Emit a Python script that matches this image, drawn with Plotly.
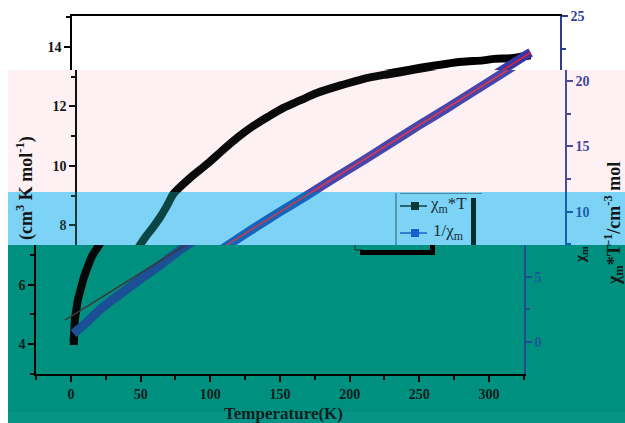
import plotly.graph_objects as go

# ---------------- data ----------------
temp_chiT = [2, 2.5, 3, 4, 5, 7, 9, 12, 15, 19, 24, 29, 35, 40, 44, 55, 68, 80, 90, 100,
             112, 123, 135, 147, 165, 180, 195, 207, 225, 243, 255, 270, 278, 290, 298, 304]
chiT = [4.1, 4.6, 4.9, 5.2, 5.5, 5.85, 6.2, 6.6, 6.95, 7.25, 7.6, 7.9, 8.3, 8.7, 9.05, 9.55, 10.05, 10.55, 10.95, 11.3,
        11.65, 11.95, 12.2, 12.45, 12.72, 12.92, 13.06, 13.15, 13.3, 13.43, 13.5, 13.55, 13.6, 13.62, 13.68, 13.72]

temp_inv = [1.8, 4, 8, 14, 21, 28, 35, 42, 50, 60, 70, 80, 90, 100, 120, 140, 160, 180, 200, 220, 240, 260, 280, 300, 304]
inv_chi = [0.65, 0.85, 1.2, 1.8, 2.5, 3.1, 3.65, 4.2, 4.85, 5.6, 6.4, 7.2, 7.9, 8.6, 9.95, 11.25, 12.6, 13.9,
           15.25, 16.6, 17.9, 19.25, 20.6, 21.95, 22.2]

fit_T = [-4.3, 304]
fit_inv = [1.68, 22.18]

x_ticks_major = 50
left_ticks_major = 2
right_ticks_major = 5

# ---------------- layout helpers ----------------
W, H = 625, 423
S = 1.3933            # px per K
T_RANGE = [-25, 325]


def v_of(py):         # left-axis value at pixel row
    return 4 + (344 - py) / 29.7


def r_of(py):         # right-axis value at pixel row
    return (342 - py) / 13.04


def px(x):
    return x / W


def py(y):
    return 1 - y / H


SERIF = "Liberation Serif"

bands = [
    dict(top=16, bot=70, x0=107, black='#000000', blue='#3636a6', fit='#e3242f', rax='#2f3c90',
         lax='#000000', ltxt='#111111', rtxt='#33409a', kind='top'),
    dict(top=70, bot=192, x0=112, black='#0a0a0a', blue='#4646ac', fit='#e0384a', rax='#4b4b9c',
         lax='#111111', ltxt='#161616', rtxt='#45479c', kind='none'),
    dict(top=192, bot=245, x0=112, black='#0c4644', blue='#1664be', fit='#b8434e', rax='#1a5dab',
         lax='#17383d', ltxt='#1c3a42', rtxt='#1c5cab', kind='none'),
    dict(top=245, bot=374, x0=71, black='#040808', blue='#1b4f96', fit='#3a3a3a', rax='#1e4e8e',
         lax='#000000', ltxt='#0e1c1c', rtxt='#1d5896', kind='bottom'),
]


def name(prefix, n):
    return prefix if n == 1 else f"{prefix}{n}"


fig = go.Figure()
layout = {}

for i, b in enumerate(bands):
    xi = i + 1
    yl = 2 * i + 1
    yr = 2 * i + 2
    xref, ylref, yrref = name('x', xi), name('y', yl), name('y', yr)

    xdom = [px(b['x0'] + S * T_RANGE[0]), px(b['x0'] + S * T_RANGE[1])]
    ydom = [py(b['bot']), py(b['top'])]

    xa = dict(domain=xdom, range=T_RANGE, anchor=ylref, showgrid=False, zeroline=False,
              fixedrange=True)
    if b['kind'] == 'top':
        xa.update(side='top', showline=True, linecolor='#000000', linewidth=1.5,
                  ticks='', showticklabels=False)
    elif b['kind'] == 'bottom':
        xa.update(side='bottom', showline=True, linecolor='#000000', linewidth=1.5,
                  ticks='outside', ticklen=6, tickwidth=1.5, tickcolor='#000000',
                  tickmode='linear', tick0=0, dtick=x_ticks_major,
                  minor=dict(ticks='outside', ticklen=4, tickwidth=1.5, tickcolor='#000000',
                             tick0=0, dtick=x_ticks_major / 2),
                  tickfont=dict(family=SERIF, size=14, color=b['ltxt'], weight='bold'))
    else:
        xa.update(visible=False)
    layout[name('xaxis', xi)] = xa

    top_r = r_of(b['top'] - 0.02)
    layout[name('yaxis', yl)] = dict(
        domain=ydom, range=[v_of(b['bot']), v_of(b['top'])], anchor=xref, side='left',
        showgrid=False, zeroline=False, showline=True, linecolor=b['lax'], linewidth=1.5,
        ticks='outside', ticklen=6, tickwidth=1.5, tickcolor=b['lax'],
        tickmode='linear', tick0=0, dtick=left_ticks_major,
        minor=dict(ticks='outside', ticklen=4, tickwidth=1.5, tickcolor=b['lax'], tick0=0,
                   dtick=left_ticks_major / 2),
        tickfont=dict(family=SERIF, size=14, color=b['ltxt'], weight='bold'), fixedrange=True)
    layout[name('yaxis', yr)] = dict(
        range=[r_of(b['bot']), top_r], anchor=xref, overlaying=ylref, side='right',
        showgrid=False, zeroline=False, showline=True, linecolor=b['rax'], linewidth=2,
        ticks='outside', ticklen=6, tickwidth=1.5, tickcolor=b['rax'],
        tickmode='linear', tick0=0, dtick=right_ticks_major,
        minor=dict(ticks='outside', ticklen=4, tickwidth=1.5, tickcolor=b['rax'], tick0=0,
                   dtick=right_ticks_major / 2),
        tickfont=dict(family=SERIF, size=14, color=b['rtxt'], weight='bold'), fixedrange=True)

    fig.add_trace(go.Scatter(x=temp_inv, y=inv_chi, mode='lines', xaxis=xref, yaxis=yrref,
                             line=dict(color=b['blue'], width=9, shape='spline', smoothing=0.6),
                             hoverinfo='skip', showlegend=False))
    fig.add_trace(go.Scatter(x=fit_T, y=fit_inv, mode='lines', xaxis=xref, yaxis=yrref,
                             line=dict(color=b['fit'], width=1.6),
                             hoverinfo='skip', showlegend=False))
    fig.add_trace(go.Scatter(x=temp_chiT, y=chiT, mode='lines', xaxis=xref, yaxis=ylref,
                             line=dict(color=b['black'], width=8, shape='spline', smoothing=0.8),
                             hoverinfo='skip', showlegend=False))
    fig.add_trace(go.Scatter(x=temp_chiT[:1], y=chiT[:1], mode='markers', xaxis=xref, yaxis=ylref,
                             marker=dict(symbol='square', size=8, color=b['black']),
                             hoverinfo='skip', showlegend=False))

# ---------------- colour bands & legend decorations ----------------
shapes = []


def rect(x0, y0, x1, y1, fill, layer='below'):
    shapes.append(dict(type='rect', xref='paper', yref='paper', x0=px(x0), x1=px(x1),
                       y0=py(y1), y1=py(y0), fillcolor=fill, line=dict(width=0), layer=layer))


def seg(x0, y0, x1, y1, color, width=1.0):
    shapes.append(dict(type='line', xref='paper', yref='paper', x0=px(x0), x1=px(x1),
                       y0=py(y0), y1=py(y1), line=dict(color=color, width=width), layer='above'))


rect(8, 70, 625, 192, '#fdf1f4')
rect(8, 192, 625, 245, '#7dd3f5')
rect(8, 245, 625, 423, '#00907f')
rect(8, 412, 625, 423, '#069486')

# legend (blue band part)
seg(396, 193, 396, 245, '#2d5e70', 1)
seg(400, 193.5, 482, 193.5, '#5a8a9a', 1)
rect(471, 198, 476, 245, '#0a2e2e', layer='above')
seg(400, 206, 427, 206, '#124040', 1.5)
rect(411, 202, 419, 210, '#0b3a38', layer='above')
seg(400, 233, 427, 233, '#1a62c4', 1.5)
rect(411, 229, 419, 237, '#1a5fd0', layer='above')
# legend (teal band part)
seg(355, 245, 355, 250, '#0d3030', 1)
seg(355, 250, 362, 250, '#0d3030', 1)
rect(360, 250, 435, 255, '#000000', layer='above')
rect(430, 245, 435, 255, '#000000', layer='above')

annotations = [
    dict(text='χ<sub>m</sub>*T', x=px(428), y=py(205), xanchor='left', yanchor='middle',
         font=dict(family=SERIF, size=17, color='#14303a')),
    dict(text='1/χ<sub>m</sub>', x=px(431), y=py(232), xanchor='left', yanchor='middle',
         font=dict(family=SERIF, size=17, color='#14303a')),
    dict(text='(cm<sup>3</sup> K mol<sup>-1</sup>)', x=px(25), y=py(188), textangle=-90,
         xanchor='center', yanchor='middle',
         font=dict(family=SERIF, size=18, color='#151515', weight='bold')),
    dict(text='χ<sub>m</sub>*T<sup>-1</sup>/cm<sup>-3</sup> mol', x=px(613), y=py(224), textangle=-90,
         xanchor='center', yanchor='middle',
         font=dict(family=SERIF, size=18, color='#101818', weight='bold')),
    dict(text='χ<sub>m</sub>', x=px(581), y=py(255), textangle=-90, xanchor='center', yanchor='middle',
         font=dict(family=SERIF, size=15, color='#101818', weight='bold')),
    dict(text='Temperature(K)', x=px(283), y=py(413), xanchor='center', yanchor='middle',
         font=dict(family=SERIF, size=17, color='#0d1f1f', weight='bold')),
]
for a in annotations:
    a.update(xref='paper', yref='paper', showarrow=False)

fig.update_layout(width=W, height=H, margin=dict(l=0, r=0, t=0, b=0), autosize=False,
                  paper_bgcolor='#ffffff', plot_bgcolor='rgba(0,0,0,0)', template='none',
                  showlegend=False, shapes=shapes, annotations=annotations, **layout)

fig.write_html("out.html", config={'displayModeBar': False},
               post_script="document.body.style.margin='0px';document.body.style.overflow='hidden';")
